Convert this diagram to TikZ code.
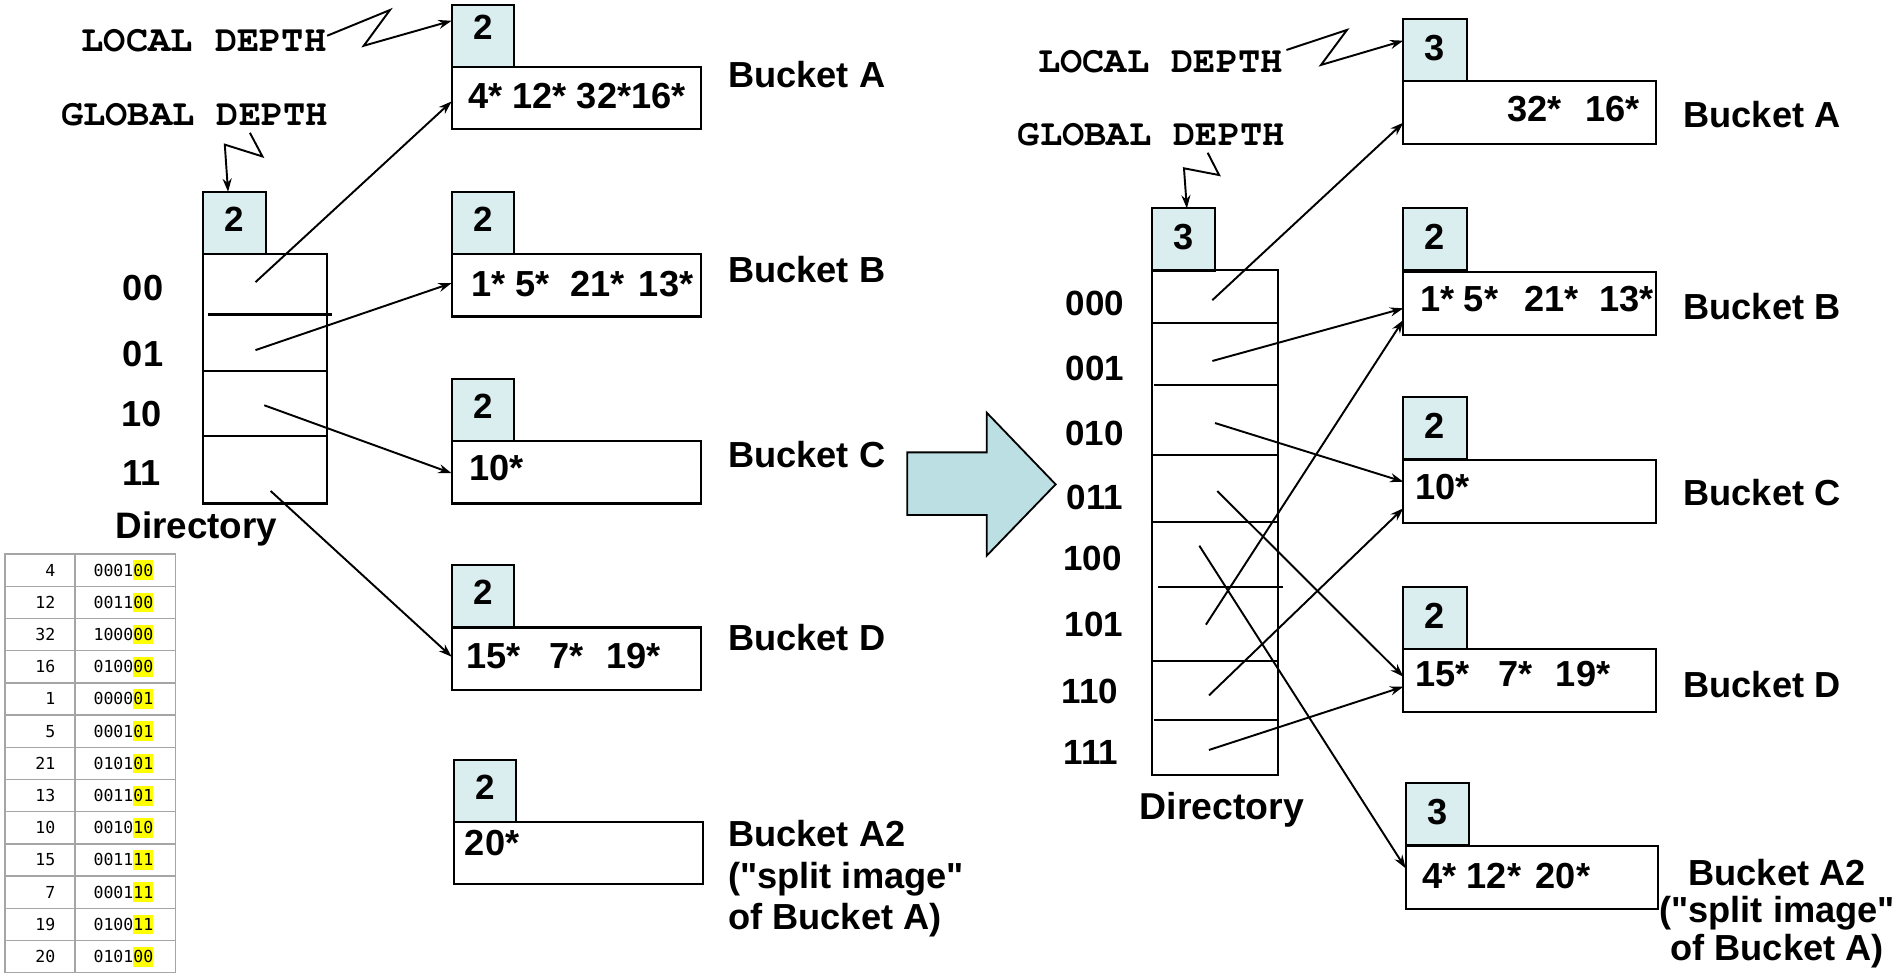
\documentclass[tikz,border=0pt]{standalone}
\usepackage{fontspec}
\setmainfont{Liberation Sans}
\newfontfamily\courfont{TeX Gyre Cursor}
\newfontfamily\tabmono{DejaVu Sans Mono}
\usetikzlibrary{arrows.meta,calc}
\definecolor{numfill}{RGB}{218,237,239}
\definecolor{arrowfill}{RGB}{187,223,226}
\definecolor{tabline}{RGB}{165,165,165}
\definecolor{hlyellow}{RGB}{255,255,0}
\newcommand\hlt[1]{{\setlength{\fboxsep}{0pt}\colorbox{hlyellow}{\rule[-3.3pt]{0pt}{16.3pt}#1}}}
\begin{document}
\begin{tikzpicture}[x=1pt,y=-1pt,
  box/.style={draw, line width=1.8pt, inner sep=0pt, outer sep=0pt, anchor=north west},
  numL/.style={box, fill=numfill, minimum width=51.7pt, minimum height=51.6pt, text depth=6pt, font=\bfseries\fontsize{29}{29}\selectfont},
  numR/.style={box, fill=numfill, minimum width=52.4pt, minimum height=51.5pt, text depth=4pt, font=\bfseries\fontsize{30}{30}\selectfont},
  datL/.style={box, fill=white, minimum width=206.5pt, minimum height=51.6pt},
  datR/.style={box, fill=white, minimum width=209pt, minimum height=52.2pt},
  dtxt/.style={anchor=base west, inner sep=0pt, font=\bfseries\fontsize{30}{30}\selectfont},
  lbl/.style={anchor=base west, inner sep=0pt, font=\bfseries\fontsize{30}{34}\selectfont},
  slot/.style={anchor=base, inner sep=0pt, font=\bfseries\fontsize{30}{30}\selectfont},
  slotR/.style={anchor=base, inner sep=0pt, font=\bfseries\fontsize{29}{29}\selectfont},
  mono/.style={anchor=base west, inner sep=0pt, font=\courfont\bfseries\fontsize{30.7}{30.7}\selectfont},
  conn/.style={line width=1.6pt, -{Stealth[length=11pt,width=7.5pt]}},
  rowline/.style={line width=1.8pt},
  tabtxt/.style={inner sep=0pt, font=\tabmono\fontsize{13.7}{13.7}\selectfont}]
\useasboundingbox (0,0) rectangle (1568,806);

% ---------------- LEFT ----------------
\node[mono] (ldL) at (67.5,42.7) {LOCAL DEPTH};
\node[mono] (gdL) at (50.5,104) {GLOBAL DEPTH};

% buckets
\node[numL, text depth=14pt] (nA) at (374.1,3.9) {2};
\node[datL] (dA) at (374.1,55.4) {};
\node[numL] (nB) at (374.1,158.9) {2};
\node[datL] (dB) at (374.1,210.5) {};
\node[numL] (nC) at (374.1,313.6) {2};
\node[datL] (dC) at (374.1,365.5) {};
\node[numL] (nD) at (374.1,468) {2};
\node[datL] (dD) at (374.1,519.8) {};
\node[numL] (nA2) at (376,629.2) {2};
\node[datL] (dA2) at (376,680.6) {};

\node[dtxt] (tA) at (387.6,90) {4* 12* 32*16*};
\node[dtxt] (tB) at (390.3,245.5) {1*\hspace{7.8pt}5*\hspace{17.2pt}21*\hspace{12pt}13*};
\node[dtxt] (tC) at (388.3,397.8) {10*};
\node[dtxt] (tD) at (386.2,553.5) {15*\hspace{23.5pt}7*\hspace{19pt}19*};
\node[dtxt] (tA2) at (384.9,709) {20*};

\node[lbl] (lAL) at (603,72.5) {Bucket A};
\node[lbl] (lBL) at (603,234) {Bucket B};
\node[lbl] (lCL) at (603,387) {Bucket C};
\node[lbl] (lDL) at (603,538.5) {Bucket D};
\node[lbl, anchor=north west, align=left] (lA2L) at (603,679.6) {Bucket A2\\(\textquotedbl split image\textquotedbl\\of Bucket A)};

% directory
\node[numL] (nDL) at (168.3,158.9) {2};
\node[box, minimum width=102.7pt, minimum height=206.6pt] (dirL) at (168.3,210.4) {};
\draw[rowline] (172,260.5) -- (275,260.5);
\draw[rowline] (169,307.5) -- (272,307.5);
\draw[rowline] (168.3,361) -- (271,361);
\node[slot] (l00) at (118.5,249) {00};
\node[slot] (l01) at (118.5,303.8) {01};
\node[slot] (l10) at (117,353.5) {10};
\node[slot] (l11) at (117.5,402.3) {11};
\node[lbl, font=\bfseries\fontsize{30.5}{34}\selectfont] (dirLlbl) at (95.5,446) {Directory};

\coordinate (s00) at (211.6,233.7);
\coordinate (s01) at (211.6,290);
\coordinate (s10) at (218.9,335.7);
\coordinate (s11) at (224.2,406.7);
\draw[conn] (s00) -- ($(dA.north west)+(0,28.6)$);
\draw[conn] (s01) -- ($(dB.north west)+(0,24)$);
\draw[conn] (s10) -- ($(dC.north west)+(0,26.5)$);
\draw[conn] (s11) -- ($(dD.north west)+(0,24.2)$);

\coordinate (ldLs) at (271,29.6);
\draw[conn] (ldLs) -- (323,8.3) -- (301.3,37.9) -- ($(nA.north west)+(0,13.3)$);
\coordinate (gdLs) at (207,110);
\draw[conn] (gdLs) -- (217.4,129.6) -- (186.2,119.8) -- ($(nDL.north west)+(20.6,0)$);

% table
\draw[tabline, line width=1.2pt] (4.1,458.9) rectangle (145.5,805.7);
\draw[tabline, line width=1.2pt] (62,458.9) -- (62,805.7);
\foreach \i in {1,...,12} {
  \pgfmathsetmacro\yl{458.9+26.68*\i}
  \draw[tabline, line width=1.2pt] (4.1,\yl) -- (145.5,\yl);
}
\foreach \n/\p/\s [count=\i from 0] in {4/0001/00, 12/0011/00, 32/1000/00, 16/0100/00, 1/0000/01, 5/0001/01, 21/0101/01, 13/0011/01, 10/0010/10, 15/0011/11, 7/0001/11, 19/0100/11, 20/0101/00} {
  \pgfmathsetmacro\yb{458.9+26.68*\i+13.34+4.9}
  \node[tabtxt, anchor=base east] (tn\i) at (46,\yb) {\n};
  \node[tabtxt, anchor=base west] (tb\i) at (77.3,\yb) {\p\hlt{\s}};
}

% big arrow
\draw[line width=1.5pt, fill=arrowfill] (751.5,374.7) -- (817.3,374.7) -- (817.3,341.8) -- (874.4,401.2) -- (817.3,460.3) -- (817.3,426.6) -- (751.5,426.6) -- cycle;

% ---------------- RIGHT ----------------
\node[mono] (ldR) at (859.7,59.7) {LOCAL DEPTH};
\node[mono] (gdR) at (843,120.5) {GLOBAL DEPTH};

\node[numR] (nAR) at (1162.4,15.7) {3};
\node[datR] (dAR) at (1162.4,67.1) {};
\node[numR] (nBR) at (1162.4,172.6) {2};
\node[datR] (dBR) at (1162.4,225) {};
\node[numR] (nCR) at (1162.4,328.6) {2};
\node[datR] (dCR) at (1162.4,381) {};
\node[numR] (nDR2) at (1162.4,486) {2};
\node[datR] (dDR) at (1162.4,537.5) {};
\node[numR] (nA2R) at (1164.3,648.3) {3};
\node[datR] (dA2R) at (1164.3,700.5) {};

\node[dtxt] (tAR) at (1248.3,100.8) {32*\hspace{19.9pt}16*};
\node[dtxt] (tBR) at (1176.7,258.2) {1*\hspace{7.4pt}5*\hspace{21.7pt}21*\hspace{17pt}13*};
\node[dtxt] (tCR) at (1172,414) {10*};
\node[dtxt] (tDR) at (1171.9,569) {15*\hspace{24pt}7*\hspace{19.3pt}19*};
\node[dtxt] (tA2R) at (1177.7,735.8) {4*\hspace{8.7pt}12*\hspace{12.2pt}20*};

\node[lbl] (lAR) at (1394.3,106) {Bucket A};
\node[lbl] (lBR) at (1394.3,264.5) {Bucket B};
\node[lbl] (lCR) at (1394.3,418.3) {Bucket C};
\node[lbl] (lDR) at (1394.3,577.5) {Bucket D};
\node[lbl, anchor=north, align=center, font=\bfseries\fontsize{30}{31}\selectfont] (lA2R) at (1472,711.3) {Bucket A2\\(\textquotedbl split image\textquotedbl\\of Bucket A)};

% directory right
\node[numR] (nDR) at (953.9,172.6) {3};
\node[box, minimum width=104.4pt, minimum height=418.4pt] (dirR) at (953.9,223.6) {};
\draw[rowline] (954,267.3) -- (1057.5,267.3);
\draw[rowline] (955.8,318.9) -- (1057.5,318.9);
\draw[rowline] (954.8,376.9) -- (1057.5,376.9);
\draw[rowline] (953,432.6) -- (1057.5,432.6);
\draw[rowline] (959,486) -- (1062.4,486);
\draw[rowline] (954.8,547.5) -- (1057.5,547.5);
\draw[rowline] (955.8,596.4) -- (1058.6,596.4);
\node[slotR] (r000l) at (907,261) {000};
\node[slotR] (r001l) at (907,314.8) {001};
\node[slotR] (r010l) at (906.5,368.6) {010};
\node[slotR] (r011l) at (907,422.4) {011};
\node[slotR] (r100l) at (905,472.7) {100};
\node[slotR] (r101l) at (906,527.3) {101};
\node[slotR] (r110l) at (903,582.6) {110};
\node[slotR] (r111l) at (903.5,633.6) {111};
\node[lbl, font=\bfseries\fontsize{31}{34}\selectfont] (dirRlbl) at (944,679.2) {Directory};

\coordinate (r000) at (1004.2,248.6);
\coordinate (r001) at (1004.2,299);
\coordinate (r010) at (1006.4,350.4);
\coordinate (r011) at (1008.3,406.7);
\coordinate (r100) at (993.4,452);
\coordinate (r101) at (998.9,517.4);
\coordinate (r110) at (1001.4,576);
\coordinate (r111) at (1001.4,621.2);
\draw[conn] (r000) -- ($(dAR.north west)+(0,34.5)$);
\draw[conn] (r001) -- ($(dBR.north west)+(0,30.4)$);
\draw[conn] (r010) -- ($(dCR.north west)+(0,18)$);
\draw[conn] (r011) -- ($(dDR.north west)+(0,23)$);
\draw[conn] (r100) -- ($(dA2R.north west)+(0,18.7)$);
\draw[conn] (r101) -- ($(dBR.north west)+(0,40)$);
\draw[conn] (r110) -- ($(dCR.north west)+(0,40)$);
\draw[conn] (r111) -- ($(dDR.north west)+(0,31.3)$);

\coordinate (ldRs) at (1065.6,41.4);
\draw[conn] (ldRs) -- (1115.7,24.8) -- (1094.2,53.8) -- ($(nAR.north west)+(0,18)$);
\coordinate (gdRs) at (1000.3,126.5);
\draw[conn] (gdRs) -- (1009.8,145) -- (980.7,139.4) -- ($(nDR.north west)+(29.2,0)$);
\end{tikzpicture}
\end{document}
